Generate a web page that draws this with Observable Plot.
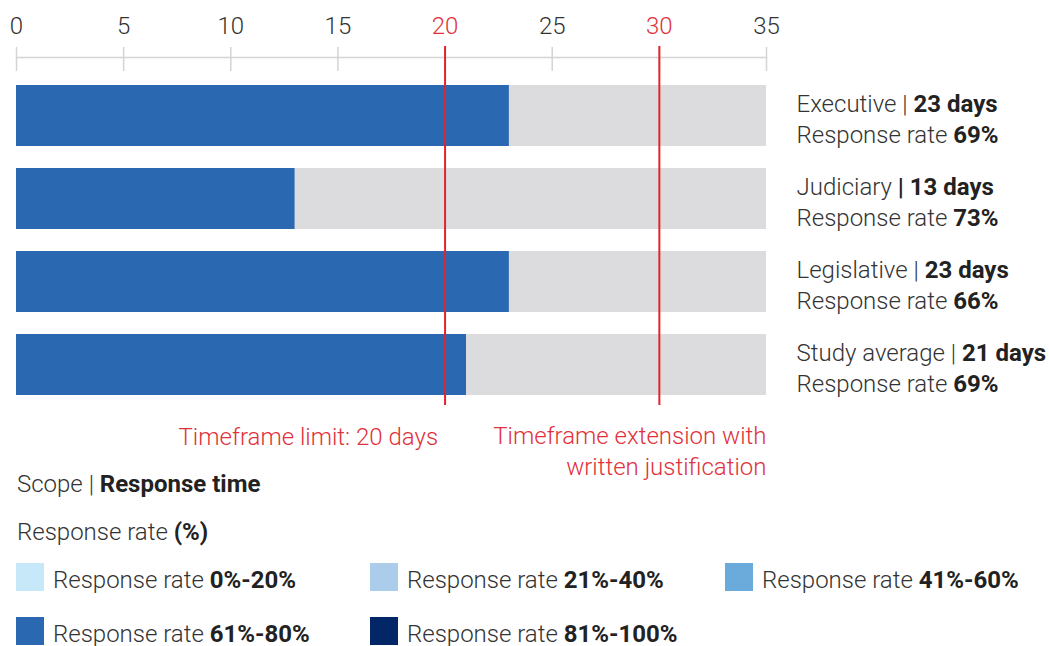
<!DOCTYPE html>
<html><head><meta charset="utf-8">
<script src="https://cdn.jsdelivr.net/npm/d3@7"></script>
<script src="https://cdn.jsdelivr.net/npm/@observablehq/plot@0.6"></script>
<style>
body{margin:0;background:#fff;font-family:Roboto,"Noto Sans",sans-serif;}
#wrap{position:relative;width:1049px;height:646px;overflow:hidden;}
#chart svg{display:block}
.lg{position:absolute;font-size:24px;line-height:24px;font-weight:300;color:#333;white-space:nowrap}
.lg b{font-weight:700;color:#222}
.sw{position:absolute;width:28px;height:28px}
</style></head><body><div id="wrap"><div id="chart"></div></div>
<script>
// ---- data ----
const categories = ["Executive", "Judiciary", "Legislative", "Study average"];
const days = [23, 13, 23, 21];
const responseRates = [69, 73, 66, 69];
const boldPipe = [false, true, false, false];
const xMax = 35;
const tickValues = [0, 5, 10, 15, 20, 25, 30, 35];
const limitTicks = [20, 30];
const limitText = "Timeframe limit: 20 days";
const extensionText = "Timeframe extension with\nwritten justification";
const scopeTitle = ["Scope | ", "Response time"];
const rateTitle = ["Response rate ", "(%)"];
const legendLabels = ["0%-20%", "21%-40%", "41%-60%", "61%-80%", "81%-100%"];
const legendColors = ["#c7e8f8", "#abcdeb", "#6babdb", "#2a69b1", "#032766"];

const red = "#e1313a";
const binColor = r => legendColors[Math.min(4, Math.floor(Math.max(0, r - 1) / 20))];

const rows = categories.map((c, i) => ({
  category: c,
  days: days[i],
  color: binColor(responseRates[i]),
  label: `${c}${boldPipe[i] ? " **| " : " | **"}${days[i]} days**\nResponse rate **${responseRates[i]}%**`
}));

const chart = Plot.plot({
  width: 1049, height: 480,
  marginLeft: 16, marginRight: 283, marginTop: 70, marginBottom: 75,
  style: {fontFamily: "Roboto, sans-serif", fontSize: "24px", background: "transparent", overflow: "visible", color: "#333"},
  x: {domain: [0, xMax], axis: null},
  y: {domain: categories, range: [63, 417], padding: 0.265, axis: null},
  color: {type: "identity"},
  marks: [
    Plot.frame({anchor: "top", dy: -13, stroke: "#d4d4d4", strokeWidth: 1.5}),
    Plot.axisX({anchor: "top", ticks: tickValues, tickSize: 24, tickFormat: () => "", stroke: "#d4d4d4", strokeWidth: 1.5, label: null}),
    Plot.text(tickValues.filter(t => !limitTicks.includes(t)), {x: d => d, frameAnchor: "top", lineAnchor: "bottom", dy: -37, fill: "#333", fontSize: 24, fontWeight: 300}),
    Plot.text(limitTicks, {x: d => d, frameAnchor: "top", lineAnchor: "bottom", dy: -37, fill: red, fontSize: 24, fontWeight: 300}),
    Plot.barX(rows, {y: "category", x1: 0, x2: xMax, fill: "#dcdcdf"}),
    Plot.barX(rows, {y: "category", x1: 0, x2: "days", fill: "color"}),
    Plot.ruleX(limitTicks, {x: d => d, stroke: "#e3232c", strokeWidth: 2, insetTop: -24}),
    Plot.text(rows, {y: "category", frameAnchor: "right", dx: 30, dy: 1.5, text: "label", textAnchor: "start", lineAnchor: "middle", lineHeight: 31.5 / 24, fill: "#333", fontSize: 24, fontWeight: 300}),
    Plot.text([limitText], {x: () => limitTicks[0], text: d => d, frameAnchor: "bottom", lineAnchor: "top", dy: 22, dx: -7, textAnchor: "end", fill: red, fontSize: 24, fontWeight: 300}),
    Plot.text([extensionText], {x: () => xMax, text: d => d, frameAnchor: "bottom", lineAnchor: "top", dy: 16, textAnchor: "end", lineHeight: 31 / 24, fill: red, fontSize: 24, fontWeight: 300})
  ]
});

// bold segments marked with **
const svgns = "http://www.w3.org/2000/svg";
chart.querySelectorAll("text").forEach(t => {
  const spans = t.querySelectorAll("tspan");
  const targets = spans.length ? [...spans] : [t];
  targets.forEach(el => {
    const s = el.textContent;
    if (!s.includes("**")) return;
    el.textContent = "";
    s.split("**").forEach((p, i) => {
      if (!p) return;
      const sp = document.createElementNS(svgns, "tspan");
      sp.textContent = p;
      if (i % 2) { sp.setAttribute("font-weight", "700"); sp.setAttribute("fill", "#222"); }
      el.appendChild(sp);
    });
  });
});
document.getElementById("chart").appendChild(chart);

// legend (HTML below the svg)
const wrap = document.getElementById("wrap");
function addText(parts, left, top) {
  const d = document.createElement("div");
  d.className = "lg";
  d.style.left = left + "px"; d.style.top = top + "px";
  d.appendChild(document.createTextNode(parts[0]));
  const b = document.createElement("b"); b.textContent = parts[1];
  d.appendChild(b);
  wrap.appendChild(d);
}
addText(scopeTitle, 17, 471.8);
addText(rateTitle, 17, 519.8);
const colX = [16, 370, 725];
const rowY = [563, 617];
legendLabels.forEach((lab, i) => {
  const cx = colX[i % 3], cy = rowY[Math.floor(i / 3)];
  const s = document.createElement("div");
  s.className = "sw";
  s.style.left = cx + "px"; s.style.top = cy + "px"; s.style.background = legendColors[i];
  wrap.appendChild(s);
  addText(["Response rate ", lab], cx + 37, cy + 4.8);
});
</script></body></html>
